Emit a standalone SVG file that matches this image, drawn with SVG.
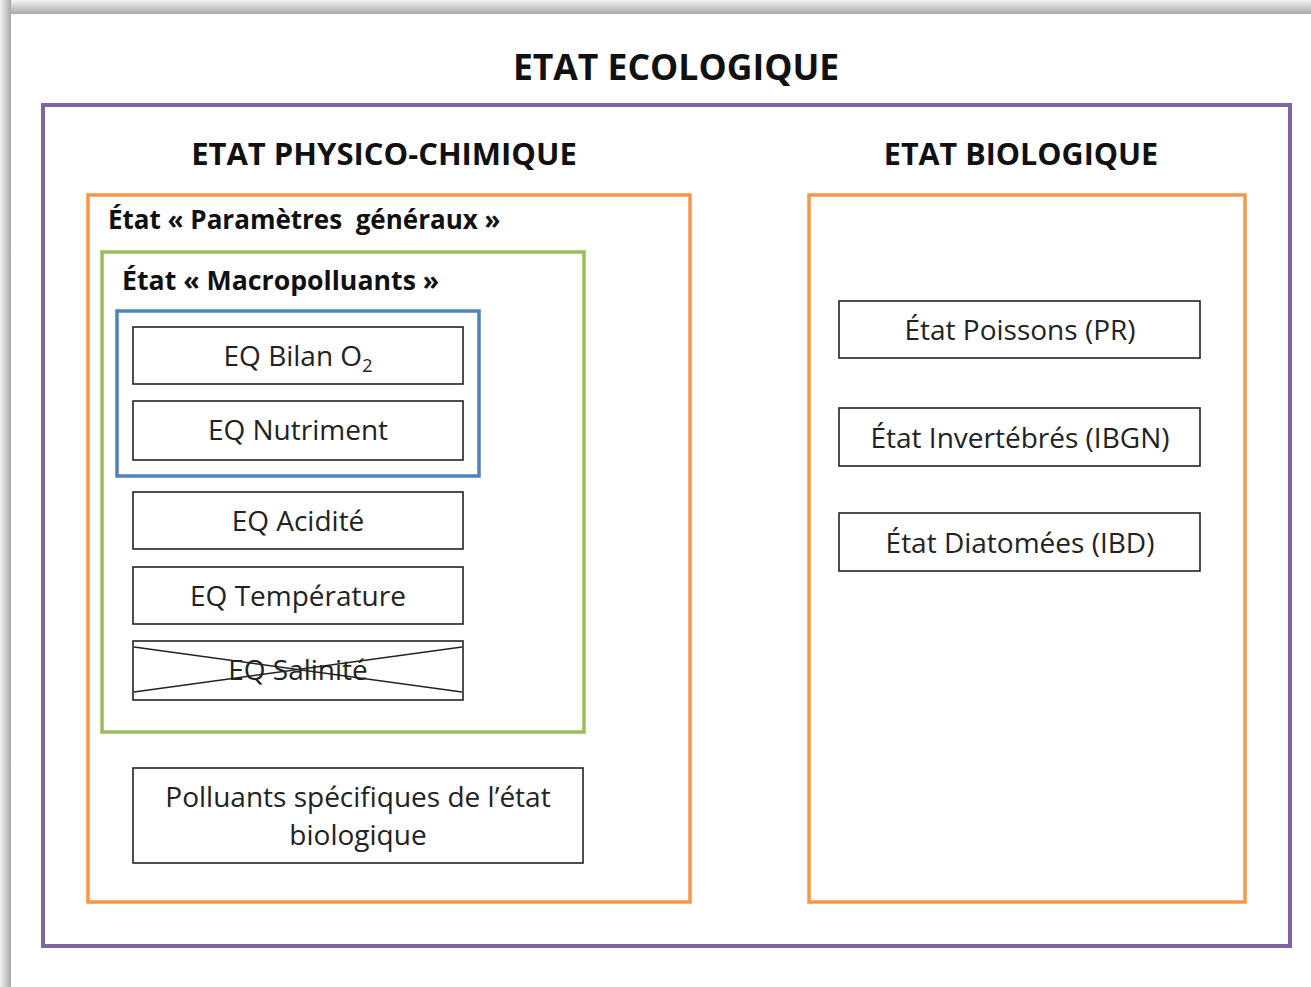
<svg xmlns="http://www.w3.org/2000/svg" width="1311" height="987" viewBox="0 0 1311 987">
<defs>
<linearGradient id="topShade" x1="0" y1="0" x2="0" y2="1">
<stop offset="0" stop-color="#f2f2f2"/>
<stop offset="1" stop-color="#a8a8a8"/>
</linearGradient>
<linearGradient id="leftShade" x1="0" y1="0" x2="1" y2="0">
<stop offset="0" stop-color="#f2f2f2"/>
<stop offset="1" stop-color="#a8a8a8"/>
</linearGradient>
<style>
.t{font-family:"Open Sans","Liberation Sans",sans-serif;fill:#111;}
.b{font-weight:bold;}
.box{fill:#fff;stroke:#222;stroke-width:1.6;}
.nt{font-family:"Open Sans","Liberation Sans",sans-serif;font-size:28px;fill:#222;text-anchor:middle;}
</style>
</defs>
<rect x="0" y="0" width="1311" height="987" fill="#fff"/>
<rect x="0" y="0" width="1311" height="14" fill="url(#topShade)"/>
<rect x="0" y="0" width="11" height="987" fill="url(#leftShade)"/>
<rect x="11" y="14" width="1300" height="973" fill="#fff"/>

<g id="title">
<text class="t b" x="676" y="80" font-size="35.5" text-anchor="middle">ETAT ECOLOGIQUE</text>
</g>

<g id="etat-ecologique">
<rect x="43" y="105" width="1247" height="841" fill="none" stroke="#8064A2" stroke-width="4"/>
</g>

<g id="physico-chimique">
<text class="t b" x="384" y="165" font-size="31" text-anchor="middle">ETAT PHYSICO-CHIMIQUE</text>
<rect x="88" y="195" width="602" height="707" fill="none" stroke="#F79646" stroke-width="3.5"/>
<text class="t b" x="108" y="229" font-size="26" xml:space="preserve">État « Paramètres  généraux »</text>
</g>

<g id="macropolluants">
<rect x="102" y="252" width="482" height="480" fill="none" stroke="#9BBB59" stroke-width="3.5"/>
<text class="t b" x="122" y="290" font-size="26.7">État « Macropolluants »</text>
</g>

<g id="blue-group">
<rect x="117" y="311" width="362" height="165" fill="none" stroke="#4F81BD" stroke-width="3.5"/>
</g>

<g id="eq-bilan-o2">
<rect class="box" x="133" y="327" width="330" height="57"/>
<text class="nt" x="298" y="366">EQ Bilan O<tspan font-size="18" dy="6">2</tspan></text>
</g>
<g id="eq-nutriment">
<rect class="box" x="133" y="401" width="330" height="59"/>
<text class="nt" x="298" y="440">EQ Nutriment</text>
</g>
<g id="eq-acidite">
<rect class="box" x="133" y="492" width="330" height="57"/>
<text class="nt" x="298" y="531">EQ Acidité</text>
</g>
<g id="eq-temperature">
<rect class="box" x="133" y="567" width="330" height="57"/>
<text class="nt" x="298" y="606">EQ Température</text>
</g>
<g id="eq-salinite">
<rect class="box" x="133" y="641" width="330" height="59"/>
<text class="nt" x="298" y="680">EQ Salinité</text>
<line x1="134" y1="647" x2="462" y2="692" stroke="#222" stroke-width="1.4"/>
<line x1="134" y1="692" x2="462" y2="647" stroke="#222" stroke-width="1.4"/>
</g>

<g id="polluants-specifiques">
<rect class="box" x="133" y="768" width="450" height="95"/>
<text class="nt" x="358" y="807">Polluants spécifiques de l’état</text>
<text class="nt" x="358" y="845">biologique</text>
</g>

<g id="biologique">
<text class="t b" x="1021" y="165" font-size="30.5" text-anchor="middle">ETAT BIOLOGIQUE</text>
<rect x="809" y="195" width="436" height="707" fill="none" stroke="#F79646" stroke-width="3.5"/>
</g>

<g id="etat-poissons">
<rect class="box" x="839" y="301" width="361" height="57"/>
<text class="nt" x="1020" y="340">État Poissons (PR)</text>
</g>
<g id="etat-invertebres">
<rect class="box" x="839" y="408" width="361" height="58"/>
<text class="nt" x="1020" y="448">État Invertébrés (IBGN)</text>
</g>
<g id="etat-diatomees">
<rect class="box" x="839" y="513" width="361" height="58"/>
<text class="nt" x="1020" y="553">État Diatomées (IBD)</text>
</g>

<g id="connectors"></g>
</svg>
